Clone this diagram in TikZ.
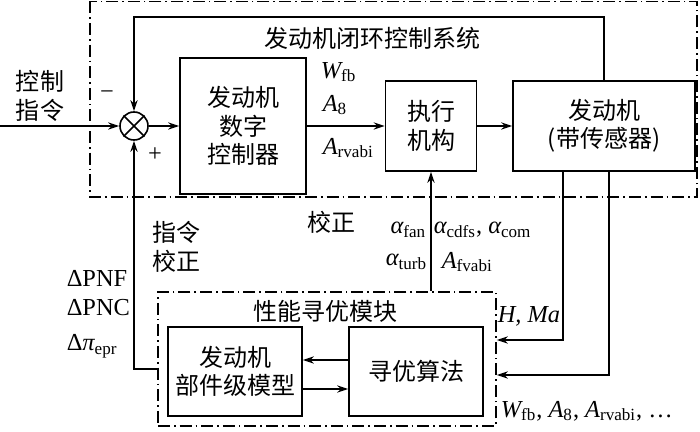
\documentclass[tikz,border=0pt]{standalone}
\usepackage{fontspec}
\setmainfont{Liberation Serif}
\newfontfamily\cjk{Noto Sans CJK SC}
\usetikzlibrary{arrows.meta}
\newcommand{\zhsize}{\fontsize{12}{14.2}\selectfont}
\newcommand{\latsize}{\fontsize{12.2}{15.5}\selectfont}

\begin{document}
\begin{tikzpicture}[
  x=0.5pt,
  y=-0.5pt,
  line width=0.8pt,
  block/.style={draw,align=center,inner sep=0pt,font=\cjk\zhsize},
  frame/.style={draw,dash pattern=on 6pt off 2pt on 0.8pt off 2pt},
  arr/.style={-{Stealth[length=5.5pt,width=3.6pt]}},
  zh/.style={font=\cjk\zhsize,align=center,inner sep=0pt},
  lbl/.style={font=\latsize,align=left,inner sep=0pt}
]
  \useasboundingbox (0,0) rectangle (700,432);

  % Closed-loop frame.
  \draw[frame] (90,1.5) rectangle (697,197);
  \node[zh] (looptitle) at (372,38) {发动机闭环控制系统};

  % Loop blocks.
  \node[draw,circle,minimum size=14pt,inner sep=0pt] (sum) at (134,126) {};
  \draw (sum.north west) -- (sum.south east) (sum.north east) -- (sum.south west);
  \node[block,minimum width=63pt,minimum height=68pt] (ctrl) at (243,126) {发动机\\数字\\控制器};
  \node[block,minimum width=45.5pt,minimum height=45pt] (act) at (431,126) {执行\\机构};
  \node[block,minimum width=91pt,minimum height=45pt] (eng) at (604,126) {发动机\\(带传感器)};

  % Optimisation module.
  \node[frame,minimum width=169pt,minimum height=67pt] (opt) at (327,359) {};
  \node[zh] (opttitle) at (325,311) {性能寻优模块};
  \node[block,minimum width=67pt,minimum height=44.5pt] (model) at (235,371.5) {发动机\\部件级模型};
  \node[block,minimum width=67pt,minimum height=44.5pt] (algo) at (416,371.5) {寻优算法};

  % Forward path.
  \coordinate (in) at (0,126);
  \draw[arr] (in) -- (sum.west);
  \draw[arr] (sum.east) -- (ctrl.west);
  \draw[arr] (ctrl.east) -- (act.west);
  \draw[arr] (act.east) -- (eng.west);
  \draw[arr] (eng.north) -- ++(0,-63) -| (sum.north);

  % Links to the optimisation module.
  \draw[arr] ([xshift=-20.5pt]eng.south) |- (opt.east |- 0,340);
  \draw[arr] ([xshift=2.5pt]eng.south) |- (opt.east |- 0,375);
  \draw[arr] (act.south |- opt.north) -- (act.south);
  \draw[arr] ([yshift=-5pt]opt.west) -| (sum.south);
  \draw[arr] (algo.west |- 0,360) -- (model.east |- 0,360);
  \draw[arr] (model.east |- 0,389) -- (algo.west |- 0,389);

  % Labels.
  \node[zh,align=left] (cmd) at (40,96) {控制\\指令};
  \node[lbl] (minus) at (107,95) {−};
  \node[lbl] (plus) at (155,155) {+};
  \node[lbl,anchor=west] (wfb) at (320,72) {{\itshape W}\textsubscript{fb}};
  \node[lbl,anchor=west] (a8) at (322,105) {{\itshape A}\textsubscript{8}};
  \node[lbl,anchor=west] (arv) at (322,148) {{\itshape A}\textsubscript{rvabi}};
  \node[zh] (corr) at (331,222) {校正};
  \node[lbl,anchor=east] (afan) at (427,230) {{\itshape α}\textsubscript{fan}};
  \node[lbl,anchor=west] (acdfs) at (433,230) {{\itshape α}\textsubscript{cdfs}, {\itshape α}\textsubscript{com}};
  \node[lbl,anchor=east] (aturb) at (428,262) {{\itshape α}\textsubscript{turb}};
  \node[lbl,anchor=west] (afv) at (441,262) {{\itshape A}\textsubscript{fvabi}};
  \node[zh,align=left,anchor=west] (cmdcorr) at (152,247) {指令\\校正};
  \node[lbl,anchor=west] (dpnf) at (66,278) {ΔPNF};
  \node[lbl,anchor=west] (dpnc) at (66,308) {ΔPNC};
  \node[lbl,anchor=west] (dpi) at (66,346) {Δ{\itshape π}\textsubscript{epr}};
  \node[lbl,anchor=west] (hma) at (497,316) {\textit{H, Ma}};
  \node[lbl,anchor=west] (meas) at (500,411) {{\itshape W}\textsubscript{fb}, {\itshape A}\textsubscript{8}, {\itshape A}\textsubscript{rvabi}, …};
\end{tikzpicture}
\end{document}
